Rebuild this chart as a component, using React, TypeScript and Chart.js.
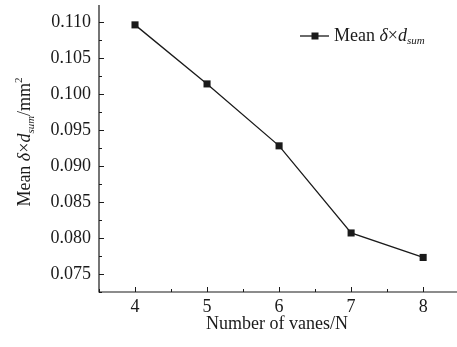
import React, { useEffect, useRef } from "react";
import { Chart, registerables } from "chart.js";

Chart.register(...registerables);

const vaneCounts = [4, 5, 6, 7, 8];
const meanValues = [0.1096, 0.1014, 0.0928, 0.0807, 0.0773];
const yTickValues = [0.075, 0.08, 0.085, 0.09, 0.095, 0.1, 0.105, 0.11];
const xTickValues = [4, 5, 6, 7, 8];
const seriesLabel = "Mean δ×d_sum";

const FAMILY = "'Liberation Serif', 'Times New Roman', serif";
const INK = "#1a1a1a";

type Seg = { t: string; italic?: boolean; size?: number; dy?: number };

function richWidth(ctx: CanvasRenderingContext2D, segs: Seg[], base: number) {
  let w = 0;
  for (const s of segs) {
    ctx.font = `${s.italic ? "italic " : ""}${s.size ?? base}px ${FAMILY}`;
    w += ctx.measureText(s.t).width;
  }
  return w;
}

function drawRich(ctx: CanvasRenderingContext2D, segs: Seg[], x: number, y: number, base: number) {
  let cx = x;
  for (const s of segs) {
    ctx.font = `${s.italic ? "italic " : ""}${s.size ?? base}px ${FAMILY}`;
    ctx.fillText(s.t, cx, y + (s.dy ?? 0));
    cx += ctx.measureText(s.t).width;
  }
}

const yTitleSegs: Seg[] = [
  { t: "Mean " },
  { t: "δ", italic: true },
  { t: "×" },
  { t: "d", italic: true },
  { t: "sum", italic: true, size: 11, dy: 4 },
  { t: "/mm" },
  { t: "2", size: 11, dy: -8 },
];

const legendSegs: Seg[] = [
  { t: "Mean " },
  { t: "δ", italic: true },
  { t: "×" },
  { t: "d", italic: true },
  { t: "sum", italic: true, size: 11, dy: 3 },
];

const decorPlugin = {
  id: "decor",
  afterDraw(chart: any) {
    const ctx: CanvasRenderingContext2D = chart.ctx;
    const { left, right, top, bottom } = chart.chartArea;
    const xs = chart.scales.x;
    const ys = chart.scales.y;
    ctx.save();
    ctx.strokeStyle = INK;
    ctx.lineWidth = 1.2;
    ctx.beginPath();
    ctx.moveTo(left, top);
    ctx.lineTo(left, bottom);
    ctx.lineTo(right, bottom);
    ctx.stroke();
    ctx.lineWidth = 1;
    ctx.beginPath();
    for (let v = 3.5; v <= xs.max + 1e-9; v += 0.5) {
      const px = Math.round(xs.getPixelForValue(v)) + 0.5;
      const major = Math.abs(v - Math.round(v)) < 1e-9;
      ctx.moveTo(px, bottom);
      ctx.lineTo(px, bottom - (major ? 5 : 3));
    }
    for (let i = 0; i <= 16; i++) {
      const v = 0.0725 + i * 0.0025;
      if (v > ys.max + 1e-9) break;
      const py = Math.round(ys.getPixelForValue(v)) + 0.5;
      const major = i % 2 === 1;
      ctx.moveTo(left, py);
      ctx.lineTo(left + (major ? 5 : 3), py);
    }
    ctx.stroke();

    ctx.fillStyle = INK;
    ctx.textBaseline = "alphabetic";
    ctx.textAlign = "left";

    const yw = richWidth(ctx, yTitleSegs, 18);
    ctx.save();
    ctx.translate(30, 142);
    ctx.rotate(-Math.PI / 2);
    drawRich(ctx, yTitleSegs, -yw / 2, 0, 18);
    ctx.restore();

    ctx.font = `18px ${FAMILY}`;
    ctx.textAlign = "center";
    ctx.fillText("Number of vanes/N", 277, 329);
    ctx.textAlign = "left";

    const ly = 36;
    ctx.lineWidth = 1.3;
    ctx.beginPath();
    ctx.moveTo(300, ly);
    ctx.lineTo(329, ly);
    ctx.stroke();
    ctx.fillRect(315 - 3.5, ly - 3.5, 7, 7);
    drawRich(ctx, legendSegs, 334, ly + 5, 18);
    ctx.restore();
  },
};

export default function App() {
  const ref = useRef<HTMLCanvasElement | null>(null);
  useEffect(() => {
    document.body.style.margin = "0";
    const canvas = ref.current!;
    const chart = new Chart(canvas, {
      type: "line",
      data: {
        datasets: [
          {
            label: seriesLabel,
            data: vaneCounts.map((x, i) => ({ x, y: meanValues[i] })),
            borderColor: INK,
            backgroundColor: INK,
            borderWidth: 1.3,
            pointStyle: "rect",
            pointRadius: 5,
            pointBorderWidth: 0,
            pointBackgroundColor: INK,
            tension: 0,
          },
        ],
      },
      options: {
        animation: false,
        responsive: false,
        devicePixelRatio: 1,
        layout: { autoPadding: false, padding: { left: 0, top: 5, right: 0, bottom: 0 } },
        plugins: { legend: { display: false }, tooltip: { enabled: false } },
        scales: {
          x: {
            type: "linear",
            min: 3.5,
            max: 8.47,
            grid: { display: false, drawTicks: false },
            border: { display: false },
            afterBuildTicks: (s: any) => {
              s.ticks = xTickValues.map((v) => ({ value: v }));
            },
            afterFit: (s: any) => {
              s.height = 55;
              s.paddingLeft = 0;
              s.paddingRight = 0;
            },
            ticks: {
              color: INK,
              padding: 4,
              maxRotation: 0,
              font: { family: FAMILY, size: 18 },
              callback: (v: any) => String(v),
            },
          },
          y: {
            type: "linear",
            min: 0.0725,
            max: 0.11236,
            grid: { display: false, drawTicks: false },
            border: { display: false },
            afterBuildTicks: (s: any) => {
              s.ticks = yTickValues.map((v) => ({ value: v }));
            },
            afterFit: (s: any) => {
              s.width = 99;
              s.paddingTop = 0;
              s.paddingBottom = 0;
            },
            ticks: {
              color: INK,
              padding: 8,
              font: { family: FAMILY, size: 18 },
              callback: (v: any) => Number(v).toFixed(3),
            },
          },
        },
      },
      plugins: [decorPlugin],
    });
    return () => chart.destroy();
  }, []);
  return (
    <div style={{ position: "absolute", left: 0, top: 0, width: 457, height: 347 }}>
      <canvas ref={ref} width={457} height={347} style={{ width: 457, height: 347 }} />
    </div>
  );
}
